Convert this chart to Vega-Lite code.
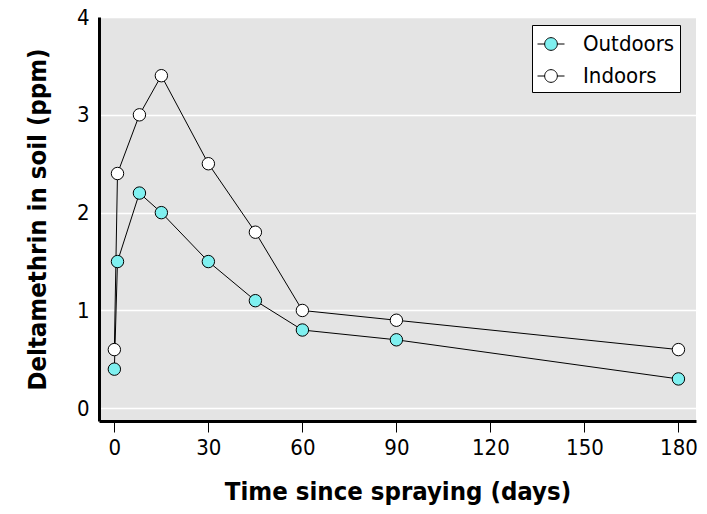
{
  "$schema": "https://vega.github.io/schema/vega-lite/v6.json",
  "width": 597,
  "height": 404,
  "autosize": "none",
  "padding": {"left": 99, "top": 17, "right": 11, "bottom": 93},
  "background": "white",
  "config": {
    "font": "'DejaVu Sans Condensed', 'Liberation Sans Narrow', 'Arial Narrow', 'Liberation Sans', sans-serif",
    "view": {"fill": "#e4e4e4", "stroke": null}
  },
  "data": {
    "values": [
      {"day": 0, "ppm": 0.4, "site": "Outdoors"},
      {"day": 1, "ppm": 1.5, "site": "Outdoors"},
      {"day": 8, "ppm": 2.2, "site": "Outdoors"},
      {"day": 15, "ppm": 2.0, "site": "Outdoors"},
      {"day": 30, "ppm": 1.5, "site": "Outdoors"},
      {"day": 45, "ppm": 1.1, "site": "Outdoors"},
      {"day": 60, "ppm": 0.8, "site": "Outdoors"},
      {"day": 90, "ppm": 0.7, "site": "Outdoors"},
      {"day": 180, "ppm": 0.3, "site": "Outdoors"},
      {"day": 0, "ppm": 0.6, "site": "Indoors"},
      {"day": 1, "ppm": 2.4, "site": "Indoors"},
      {"day": 8, "ppm": 3.0, "site": "Indoors"},
      {"day": 15, "ppm": 3.4, "site": "Indoors"},
      {"day": 30, "ppm": 2.5, "site": "Indoors"},
      {"day": 45, "ppm": 1.8, "site": "Indoors"},
      {"day": 60, "ppm": 1.0, "site": "Indoors"},
      {"day": 90, "ppm": 0.9, "site": "Indoors"},
      {"day": 180, "ppm": 0.6, "site": "Indoors"}
    ]
  },
  "encoding": {
    "x": {
      "field": "day",
      "type": "quantitative",
      "title": "Time since spraying (days)",
      "scale": {"domain": [-4.9, 185.6], "nice": false, "zero": false},
      "axis": {
        "values": [0, 30, 60, 90, 120, 150, 180],
        "grid": false,
        "domainColor": "black",
        "domainWidth": 3,
        "tickColor": "black",
        "tickSize": 11,
        "tickWidth": 1,
        "labelFontSize": 22,
        "labelColor": "black",
        "labelPadding": 5,
        "titleFontSize": 25.5,
        "titleFontWeight": "bold",
        "titleColor": "black",
        "titlePadding": 21
      }
    },
    "y": {
      "field": "ppm",
      "type": "quantitative",
      "title": "Deltamethrin in soil (ppm)",
      "scale": {"domain": [-0.13, 4], "nice": false, "zero": false},
      "axis": {
        "values": [0, 1, 2, 3, 4],
        "grid": true,
        "gridColor": "white",
        "gridWidth": 1.5,
        "ticks": false,
        "domainColor": "black",
        "domainWidth": 3,
        "labelFontSize": 22,
        "labelColor": "black",
        "labelPadding": 10,
        "titleFontSize": 25.5,
        "titleFontWeight": "bold",
        "titleColor": "black",
        "titlePadding": 26
      }
    }
  },
  "layer": [
    {
      "mark": {"type": "line", "color": "black", "strokeWidth": 1},
      "encoding": {"detail": {"field": "site"}}
    },
    {
      "mark": {"type": "point", "filled": true, "size": 154, "stroke": "black", "strokeWidth": 1, "opacity": 1, "shape": "circle"},
      "encoding": {
        "fill": {
          "field": "site",
          "type": "nominal",
          "scale": {"domain": ["Outdoors", "Indoors"], "range": ["#7ff0f0", "white"]},
          "legend": {
            "title": null,
            "orient": "none",
            "legendX": 433,
            "legendY": 8,
            "fillColor": "white",
            "strokeColor": "black",
            "padding": 5,
            "rowPadding": 7,
            "symbolType": "M-1,0H-0.47M0.47,0H1M0.47,0A0.47,0.47,0,1,1,-0.47,0A0.47,0.47,0,1,1,0.47,0Z",
            "symbolSize": 729,
            "symbolStrokeColor": "black",
            "symbolStrokeWidth": 1,
            "labelFontSize": 22,
            "labelColor": "black",
            "labelOffset": 18
          }
        }
      }
    }
  ]
}
